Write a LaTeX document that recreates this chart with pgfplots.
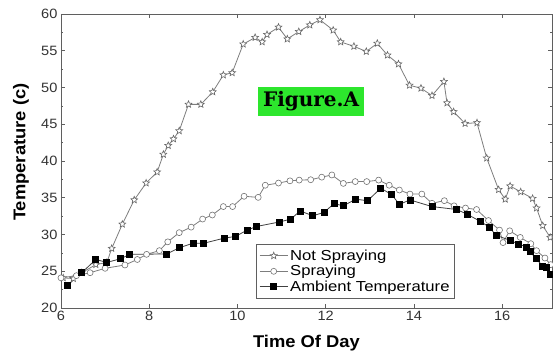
\documentclass[border=0pt]{standalone}
\usepackage{fontspec}
\setmainfont{Liberation Sans}[FakeStretch=1.08]
\newfontfamily\legfont{Liberation Sans}[FakeStretch=1.15]
\newfontfamily\figfont{DejaVu Serif}
\usepackage{pgfplots}
\pgfplotsset{compat=1.18}
\usetikzlibrary{plotmarks}
\definecolor{figgreen}{RGB}{45,230,45}
\definecolor{axgray}{RGB}{95,95,95}
\definecolor{lgray}{RGB}{125,125,125}
\pgfdeclareplotmark{ostar}{%
  \pgfpathmoveto{\pgfpointpolar{90}{\pgfplotmarksize}}%
  \pgfpathlineto{\pgfpointpolar{126}{0.45\pgfplotmarksize}}%
  \pgfpathlineto{\pgfpointpolar{162}{\pgfplotmarksize}}%
  \pgfpathlineto{\pgfpointpolar{198}{0.45\pgfplotmarksize}}%
  \pgfpathlineto{\pgfpointpolar{234}{\pgfplotmarksize}}%
  \pgfpathlineto{\pgfpointpolar{270}{0.45\pgfplotmarksize}}%
  \pgfpathlineto{\pgfpointpolar{306}{\pgfplotmarksize}}%
  \pgfpathlineto{\pgfpointpolar{342}{0.45\pgfplotmarksize}}%
  \pgfpathlineto{\pgfpointpolar{18}{\pgfplotmarksize}}%
  \pgfpathlineto{\pgfpointpolar{54}{0.45\pgfplotmarksize}}%
  \pgfpathclose
  \pgfusepathqfillstroke
}
\begin{document}
\begin{tikzpicture}
\begin{axis}[
  scale only axis, width=491pt, height=294pt,
  xmin=6, xmax=17.13, ymin=20, ymax=60,
  xtick={6,8,...,16}, ytick={20,25,...,60}, minor y tick num=1,
  tick align=inside,
  major tick length=4pt, minor tick length=2.5pt,
  axis line style={axgray, line width=0.9pt},
  every tick/.style={axgray, line width=0.7pt},
  tick label style={font=\fontsize{13.5}{14}\selectfont, text=black!80},
  /pgf/number format/assume math mode=true,
  xlabel={\bfseries Time Of Day},
  label style={font=\fontsize{17}{18}\selectfont},
  xlabel style={at={(rel axis cs:0.5,0)}, anchor=base, yshift=-40pt},
  legend style={at={(0.397,0.218)}, anchor=north west, draw=axgray, line width=0.8pt,
    font=\legfont\fontsize{14.5}{15}\selectfont, row sep=-0.5pt, inner xsep=3pt, inner ysep=3.5pt},
  legend cell align=left,
  legend image code/.code={\draw[mark repeat=2,mark phase=2] plot coordinates {(0pt,0pt) (14pt,0pt) (28pt,0pt)};},
]
\addplot[lgray, line width=0.8pt, mark=ostar, mark size=3.6pt, mark options={fill=white, draw=black!60, line width=0.6pt}]
coordinates {
(6.05,24.1)(6.28,24.0)(6.47,24.8)(6.79,25.9)(7.04,26.2)(7.15,28.1)(7.39,31.4)(7.66,34.7)
(7.93,37.0)(8.18,38.5)(8.32,40.9)(8.43,42.1)(8.55,43.0)(8.68,44.1)(8.89,47.7)(9.17,47.7)
(9.44,49.4)(9.68,51.7)(9.88,52.0)(10.13,55.9)(10.40,56.8)(10.56,56.2)(10.67,57.2)(10.93,58.2)
(11.13,56.6)(11.39,57.6)(11.64,58.5)(11.87,59.2)(12.17,57.8)(12.34,56.2)(12.64,55.6)(12.92,54.9)
(13.17,56.0)(13.40,54.4)(13.65,53.2)(13.90,50.3)(14.16,49.9)(14.41,48.9)(14.68,50.8)(14.75,47.9)
(14.90,46.7)(15.16,45.1)(15.43,45.2)(15.65,40.4)(15.92,36.1)(16.07,34.8)(16.18,36.6)(16.42,35.8)
(16.69,34.9)(16.78,33.6)(16.92,31.2)(17.09,29.6)
};
\addlegendentry{Not Spraying}
\addplot[lgray, line width=0.8pt, mark=*, mark size=3pt, mark options={fill=white, draw=black!55, line width=0.6pt}]
coordinates {
(6.0,24.1)(6.35,24.4)(6.66,24.8)(7.0,25.4)(7.45,25.85)(7.73,26.6)(7.94,27.3)(8.23,27.8)
(8.42,29.0)(8.68,30.25)(8.95,31.0)(9.21,32.1)(9.43,32.65)(9.68,33.8)(9.89,33.8)(10.15,35.2)
(10.47,35.05)(10.63,36.7)(10.93,37.0)(11.19,37.3)(11.40,37.4)(11.66,37.45)(11.91,37.8)(12.14,38.1)
(12.40,36.95)(12.67,37.2)(12.93,37.2)(13.20,37.4)(13.44,36.7)(13.67,36.05)(13.91,35.5)(14.18,35.5)
(14.41,34.25)(14.69,34.6)(14.91,33.9)(15.17,33.6)(15.42,33.4)(15.69,31.9)(15.94,30.6)(16.02,28.9)
(16.17,30.5)(16.41,29.6)(16.65,28.75)(16.78,27.8)(16.97,26.8)(17.10,25.9)
};
\addlegendentry{Spraying}
\addplot[black!75, line width=0.8pt, mark=square*, mark size=3pt, mark options={fill=black, draw=black}]
coordinates {
(6.15,23.1)(6.47,24.8)(6.79,26.6)(7.04,26.2)(7.35,26.7)(7.56,27.3)(8.40,27.35)(8.68,28.2)
(8.99,28.8)(9.23,28.8)(9.70,29.5)(9.96,29.75)(10.22,30.6)(10.44,31.1)(10.95,31.7)(11.21,32.1)
(11.42,33.2)(11.71,32.55)(11.96,33.0)(12.19,34.2)(12.40,33.9)(12.68,34.8)(12.95,34.6)(13.25,36.3)
(13.50,35.4)(13.67,34.1)(13.91,34.7)(14.41,33.8)(14.97,33.4)(15.21,32.75)(15.50,31.8)(15.71,31.0)
(15.86,29.9)(16.18,29.2)(16.37,28.7)(16.56,28.3)(16.63,27.7)(16.77,26.7)(16.92,25.7)(17.01,25.5)
(17.10,24.6)
};
\addlegendentry{Ambient Temperature}
\node[fill=figgreen, inner xsep=5pt, inner ysep=4.5pt, font=\figfont\bfseries\fontsize{20}{21}\selectfont]
  at (axis cs:11.67,48.1) {Figure.A};
\coordinate (sw) at (rel axis cs:0,0);
\coordinate (ne) at (rel axis cs:1,1);
\coordinate (ylab) at (rel axis cs:0,0.53);
\end{axis}
\node[rotate=90, anchor=center, font=\fontsize{17}{18}\selectfont\bfseries] at ([xshift=-40pt]ylab) {Temperature (c)};
\pgfresetboundingbox
\path ([shift={(-61pt,-43pt)}]sw) rectangle ([shift={(1pt,14pt)}]ne);
\end{tikzpicture}
\end{document}
